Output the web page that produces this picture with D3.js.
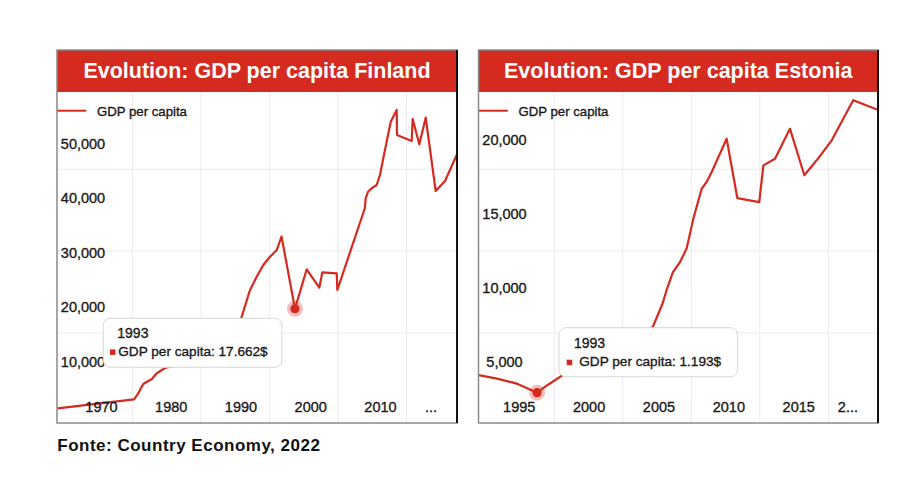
<!DOCTYPE html>
<html><head><meta charset="utf-8">
<script src="https://cdn.jsdelivr.net/npm/d3@7"></script>
<style>
html,body{margin:0;padding:0;background:#fff;}
svg{display:block;}
text{font-family:"Liberation Sans",Arial,Helvetica,sans-serif;}
</style></head><body><svg id="chart" width="922" height="481"></svg>
<script>
// ---------- DATA ----------
const finlandYears = [1959.12,1970.25,1970.88,1971.6,1972.33,1972.83,1973.56,1974.29,1975.02,1977.69,1980.6,1983.09,1984.98,1985.96,1987.17,1988.15,1989.11,1990.09,1991.07,1991.77,1993.73,1995.44,1997.28,1997.72,1999.82,1999.91,2003.92,2004.05,2004.39,2004.92,2005.65,2006.13,2006.86,2007.7,2008.57,2008.61,2010.76,2010.9,2011.87,2012.8,2014.26,2015.62,2017.32];
const finlandGdp   = [1140,2790,3890,5600,6150,6460,7560,8170,8660,9360,10000,11470,14590,17950,22840,25290,27430,28950,30180,32660,19400,26640,23270,26090,25910,22840,37840,39670,40880,41510,42110,43950,48530,53730,55870,51290,50180,54220,49580,54460,41010,42840,47620];
const finlandYTicks = [10000,20000,30000,40000,50000];
const finlandXTicks = [1970,1980,1990,2000,2010];
const finlandXLastLabel = "...";
const finlandTipIndex = 20;
const finlandTipYear = "1993";
const finlandTipValue = "17.662$";

const estoniaYears = [1989.48,1990.74,1992.2,1993.18,1993.74,1994.52,1995.61,1998.34,2000.53,2002.18,2002.91,2003.2,2003.66,2004.18,2004.66,2005.15,2005.76,2006.12,2006.49,2007.58,2008.36,2009.96,2010.26,2011.11,2012.2,2013.25,2014.15,2015.25,2016.09,2016.82,2018.7];
const estoniaGdp   = [4070,3850,3510,3110,2880,3400,4070,5430,6440,7300,8920,9820,11030,11710,12620,14640,16660,17120,17790,20040,16030,15760,18240,18690,20720,17570,18580,19930,21390,22640,21960];
const estoniaYTicks = [5000,10000,15000,20000];
const estoniaXTicks = [1995,2000,2005,2010,2015];
const estoniaXLastLabel = "2...";
const estoniaTipIndex = 4;
const estoniaTipYear = "1993";
const estoniaTipValue = "1.193$";

const seriesName = "GDP per capita";
const sourceText = "Fonte: Country Economy, 2022";
const titles = ["Evolution: GDP per capita Finland", "Evolution: GDP per capita Estonia"];

// ---------- LAYOUT ----------
const RED = "#d52a20";
const svg = d3.select("#chart");
svg.append("rect").attr("width",922).attr("height",481).attr("fill","#fff");

const panels = [
  {title:titles[0], years:finlandYears, values:finlandGdp, yTicks:finlandYTicks, xTicks:finlandXTicks,
   lastLabel:finlandXLastLabel, tipIndex:finlandTipIndex, tipYear:finlandTipYear, tipValue:finlandTipValue,
   left:57, right:457, yDomain:[0,60000], yRange:[414.5,87.5], yLabelDy:1.3,
   xDomain:[1970,2010], xRange:[132.3,406.5], xLabelRange:[101.5,380.5],
   tip:{x:103.3,y:318.3,yearX:14,yearY:19.4,markX:6.7,textX:15,textY:37.4}},
  {title:titles[1], years:estoniaYears, values:estoniaGdp, yTicks:estoniaYTicks, xTicks:estoniaXTicks,
   lastLabel:estoniaXLastLabel, tipIndex:estoniaTipIndex, tipYear:estoniaTipYear, tipValue:estoniaTipValue,
   left:478.5, right:878, yDomain:[0,20000], yRange:[435.3,139.3], yLabelDy:0,
   xDomain:[1995,2015], xRange:[554.3,828.3], xLabelRange:[519.2,798.7],
   tip:{x:559,y:327.7,yearX:15,yearY:20.6,markX:7.7,textX:20.3,textY:38.3}}
];
const panelTop = 50, titleBottom = 92, panelBottom = 423;

panels.forEach((p,pi)=>{
  const g = svg.append("g");
  const x = d3.scaleLinear().domain(p.xDomain).range(p.xRange);
  const xl = d3.scaleLinear().domain(p.xDomain).range(p.xLabelRange);
  const y = d3.scaleLinear().domain(p.yDomain).range(p.yRange);
  const gridY = d3.scaleLinear().domain([0,4]).range([414.5,87.5]);

  g.append("rect").attr("x",p.left).attr("y",panelTop).attr("width",p.right-p.left).attr("height",panelBottom-panelTop).attr("fill","#fff");

  // grid
  g.selectAll(".vg").data(p.xTicks).join("line")
    .attr("x1",d=>x(d)).attr("x2",d=>x(d)).attr("y1",titleBottom).attr("y2",panelBottom)
    .attr("stroke","#ebebeb").attr("stroke-width",1);
  g.selectAll(".hg").data([1,2,3]).join("line")
    .attr("x1",p.left).attr("x2",p.right).attr("y1",d=>gridY(d)).attr("y2",d=>gridY(d))
    .attr("stroke","#ebebeb").attr("stroke-width",1);

  // clip
  const cid = "clip"+pi;
  svg.append("clipPath").attr("id",cid).append("rect")
    .attr("x",p.left).attr("y",titleBottom).attr("width",p.right-p.left).attr("height",panelBottom-titleBottom);

  // line
  const pts = p.years.map((yr,i)=>[yr,p.values[i]]);
  g.append("path").datum(pts).attr("clip-path",`url(#${cid})`)
    .attr("fill","none").attr("stroke",RED).attr("stroke-width",2.2).attr("stroke-linejoin","round")
    .attr("d",d3.line().x(d=>x(d[0])).y(d=>y(d[1])));

  // highlight point
  const hp = pts[p.tipIndex];
  g.append("circle").attr("cx",x(hp[0])).attr("cy",y(hp[1])).attr("r",8).attr("fill",RED).attr("fill-opacity",0.3);
  g.append("circle").attr("cx",x(hp[0])).attr("cy",y(hp[1])).attr("r",4.6).attr("fill",RED);

  // title bar
  g.append("rect").attr("x",p.left).attr("y",panelTop).attr("width",p.right-p.left).attr("height",titleBottom-panelTop).attr("fill",RED);
  g.append("text").attr("x",(p.left+p.right)/2).attr("y",78.3).attr("text-anchor","middle")
    .attr("fill","#fff").attr("font-weight","bold").attr("font-size","21.5px").text(p.title);

  const lblStyle = s => s.attr("fill","#1a1a1a").attr("stroke","#1a1a1a").attr("stroke-width",0.35);
  // y labels
  g.selectAll(".yl").data(p.yTicks).join("text")
    .attr("x",p.left+26).attr("y",d=>y(d)+p.yLabelDy+5.2).attr("text-anchor","middle")
    .attr("font-size","14.5px").call(lblStyle).text(d=>d3.format(",")(d));

  // x labels
  g.selectAll(".xl").data(p.xTicks).join("text")
    .attr("x",d=>xl(d)).attr("y",411.7).attr("text-anchor","middle")
    .attr("font-size","14.5px").call(lblStyle).text(d=>String(d));
  g.append("text").attr("x",p.right-20).attr("y",411.7).attr("text-anchor","end")
    .attr("font-size","14.5px").call(lblStyle).text(p.lastLabel);

  // legend
  g.append("line").attr("x1",p.left).attr("x2",p.left+29.3).attr("y1",110.7).attr("y2",110.7)
    .attr("stroke",RED).attr("stroke-width",2);
  g.append("text").attr("x",p.left+40).attr("y",115.8).attr("font-size","13.2px").call(lblStyle).text(seriesName);

  // border
  g.append("rect").attr("x",p.left).attr("y",panelTop).attr("width",p.right-p.left).attr("height",panelBottom-panelTop)
    .attr("fill","none").attr("stroke","#8a8a8a").attr("stroke-width",1.5);
  g.append("line").attr("x1",p.right).attr("x2",p.right).attr("y1",panelTop).attr("y2",panelBottom)
    .attr("stroke","#111").attr("stroke-width",2);

  // tooltip
  const t = g.append("g").attr("transform",`translate(${p.tip.x},${p.tip.y})`);
  t.append("rect").attr("width",178.5).attr("height",49).attr("rx",7)
    .attr("fill","#fff").attr("stroke","#d6d6d6").attr("stroke-width",1);
  t.append("text").attr("x",p.tip.yearX).attr("y",p.tip.yearY).attr("font-size","14px").call(lblStyle).text(p.tipYear);
  t.append("rect").attr("x",p.tip.markX).attr("y",p.tip.textY-6.3).attr("width",5.5).attr("height",5.5).attr("fill",RED);
  t.append("text").attr("x",p.tip.textX).attr("y",p.tip.textY).attr("font-size","13.6px").call(lblStyle)
    .text(`${seriesName}: ${p.tipValue}`);
});

// source
svg.append("text").attr("x",57.3).attr("y",450.5).attr("font-size","17px").attr("font-weight","bold")
  .attr("letter-spacing","0.5px").attr("fill","#111").text(sourceText);
</script></body></html>
